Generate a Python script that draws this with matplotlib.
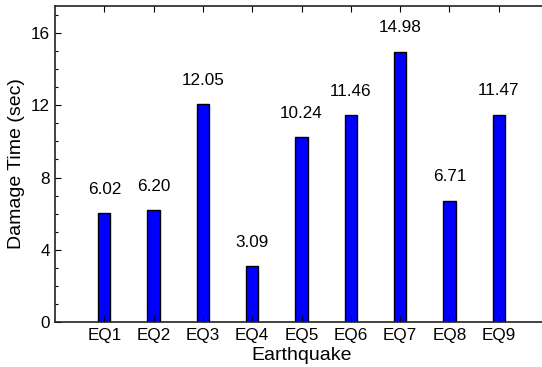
import numpy as np
import matplotlib.pyplot as plt
from matplotlib.ticker import MultipleLocator

plt.rcParams['font.family'] = ['Liberation Sans', 'DejaVu Sans']

quakes = ["EQ1", "EQ2", "EQ3", "EQ4", "EQ5", "EQ6", "EQ7", "EQ8", "EQ9"]
damage_time = [6.02, 6.20, 12.05, 3.09, 10.24, 11.46, 14.98, 6.71, 11.47]

fig = plt.figure(figsize=(5.42, 3.67), dpi=100)
ax = fig.add_axes([0.1015, 0.1226, 0.9096, 0.861])

x = np.arange(1, len(quakes) + 1)
ax.bar(x, damage_time, width=0.25, color=(0, 0, 1), edgecolor='k', linewidth=1)

for xi, v in zip(x, damage_time):
    ax.annotate(f"{v:.2f}", (xi, v), xytext=(0, 14), textcoords='offset points',
                ha='center', va='baseline', fontsize=12.3)

ax.set_xlim(0, 10)
ax.set_ylim(0, 17.5)
ax.set_xticks(x)
ax.set_xticklabels(quakes)
ax.set_yticks([0, 4, 8, 12, 16])
ax.yaxis.set_minor_locator(MultipleLocator(1))
ax.tick_params(axis='both', which='both', direction='in', top=True, right=True,
               labelsize=12.3, width=0.8)
ax.tick_params(which='major', length=4)
ax.tick_params(which='minor', length=2.5)
ax.tick_params(axis='x', pad=4)
for s in ax.spines.values():
    s.set_linewidth(1.2)
    s.set_color('#222222')

ax.set_xlabel("Earthquake", fontsize=14, labelpad=3)
ax.set_ylabel("Damage Time (sec)", fontsize=14, labelpad=4)

fig.savefig("out.png", dpi=100)
